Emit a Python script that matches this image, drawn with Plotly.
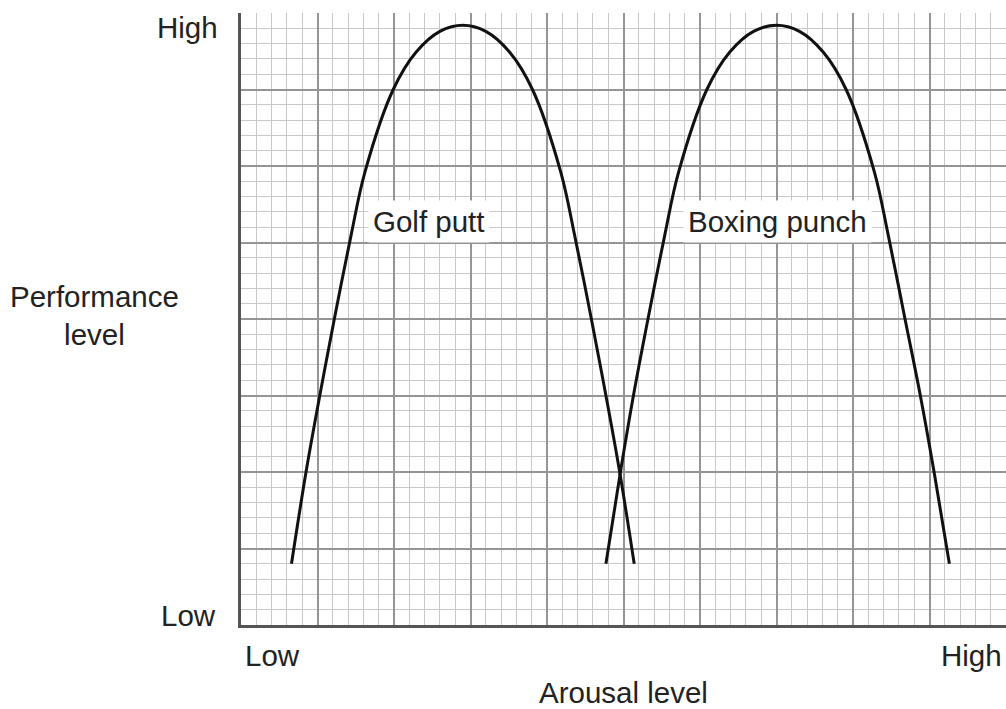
import plotly.graph_objects as go

# Golf putt curve (arousal, performance) in grid units
golf_x = [3.3, 4.25, 5.15, 6.1, 7.2, 8.1, 9.95, 11.45, 13.0, 14.5, 16.0, 17.55, 19.05, 20.9, 21.8, 22.9, 23.85, 24.75, 25.7]
golf_y = [4.0, 10.0, 15.0, 20.0, 25.5, 29.6, 35.0, 37.45, 38.8, 39.2, 38.8, 37.45, 35.0, 29.6, 25.5, 20.0, 15.0, 10.0, 4.0]

# Boxing punch curve
box_x = [23.85, 24.8, 25.65, 26.6, 27.7, 28.6, 30.45, 31.95, 33.5, 35.0, 36.5, 38.05, 39.55, 41.4, 42.3, 43.4, 44.4, 45.3, 46.3]
box_y = [4.0, 10.0, 15.0, 20.0, 25.5, 29.6, 35.0, 37.45, 38.8, 39.2, 38.8, 37.45, 35.0, 29.6, 25.5, 20.0, 15.0, 10.0, 4.0]

curve_labels = ["Golf putt", "Boxing punch"]
label_x = [12.3, 35.07]
label_y = [26.4, 26.4]

y_tick_text = ["Low", "High"]
x_tick_text = ["Low", "High"]
x_title = "Arousal level"
y_title = "Performance<br>level"

FONT = "Liberation Sans, Arial, sans-serif"
TXT = "#222222"
FS = 29.5

fig = go.Figure()
for xs, ys in ((golf_x, golf_y), (box_x, box_y)):
    fig.add_trace(go.Scatter(x=xs, y=ys, mode="lines",
                             line=dict(color="#111111", width=3, shape="spline", smoothing=1.0),
                             hoverinfo="skip", showlegend=False))

annotations = []
for t, xx, yy in zip(curve_labels, label_x, label_y):
    annotations.append(dict(x=xx, y=yy, xref="x", yref="y", text=t, showarrow=False,
                            font=dict(family=FONT, size=FS, color=TXT),
                            bgcolor="white", borderpad=4))

def paper_ann(text, x, y, xanchor="center"):
    return dict(x=x, y=y, xref="paper", yref="paper", text=text, showarrow=False,
                xanchor=xanchor, yanchor="middle",
                font=dict(family=FONT, size=FS, color=TXT))

annotations += [
    paper_ann(y_tick_text[1], -0.027, 0.977, "right"),
    paper_ann(y_tick_text[0], -0.030, 0.016, "right"),
    paper_ann(x_tick_text[0], 0.002, -0.050, "left"),
    paper_ann(x_tick_text[1], 0.998, -0.050, "right"),
    paper_ann(x_title, 0.5, -0.111),
    paper_ann(y_title, -0.191, 0.505),
]

axis_common = dict(
    showgrid=True, gridcolor="#959595", gridwidth=1.5,
    minor=dict(dtick=1, showgrid=True, gridcolor="#c8c8c8", gridwidth=1),
    showticklabels=False, ticks="", zeroline=False,
    showline=True, linecolor="#555555", linewidth=3,
    fixedrange=True,
)

fig.update_layout(
    width=1006, height=709,
    margin=dict(l=241, r=0, t=13, b=84),
    paper_bgcolor="white", plot_bgcolor="white",
    xaxis=dict(range=[0, 50], dtick=5, tick0=0, **axis_common),
    yaxis=dict(range=[0, 40], dtick=5, tick0=0, **axis_common),
    annotations=annotations,
)

fig.write_html(
    "out.html",
    config={"displayModeBar": False},
    post_script="document.body.style.margin='0';document.body.style.overflow='hidden';",
)
